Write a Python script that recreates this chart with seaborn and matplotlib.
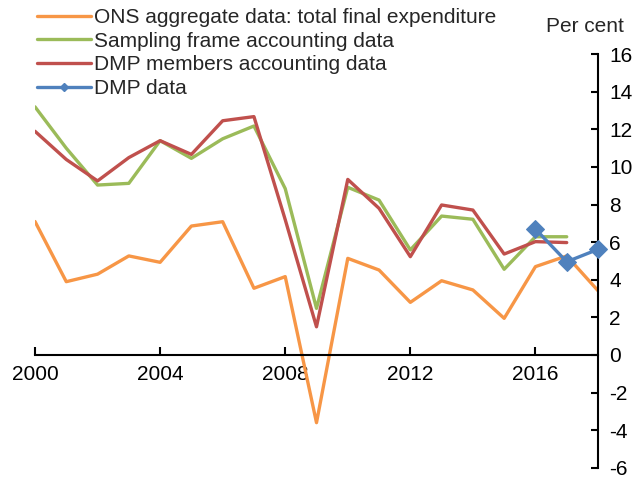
import matplotlib
matplotlib.use("Agg")
import matplotlib.pyplot as plt
import seaborn as sns
import pandas as pd
from matplotlib.lines import Line2D

years = list(range(2000, 2019))
ons = [7.1, 3.9, 4.3, 5.27, 4.93, 6.86, 7.09, 3.55, 4.17, -3.6, 5.14, 4.52, 2.8, 3.95, 3.46, 1.95, 4.7, 5.27, 3.42]
sampling = [13.2, 11.0, 9.04, 9.13, 11.4, 10.46, 11.5, 12.18, 8.85, 2.48, 8.92, 8.24, 5.59, 7.39, 7.22, 4.56, 6.29, 6.29]
members = [11.9, 10.4, 9.26, 10.5, 11.4, 10.67, 12.46, 12.68, 7.2, 1.5, 9.34, 7.8, 5.23, 7.98, 7.71, 5.37, 6.03, 5.98]
dmp_years = [2016, 2017, 2018]
dmp = [6.7, 4.96, 5.62]

labels = ["ONS aggregate data: total final expenditure",
          "Sampling frame accounting data",
          "DMP members accounting data",
          "DMP data"]
colors = ["#F79646", "#9BBB59", "#C0504D", "#4F81BD"]
yticks = list(range(-6, 17, 2))
xticks = [2000, 2004, 2008, 2012, 2016]

sns.set_theme(style="white")
plt.rcParams['font.family'] = ['Liberation Sans', 'DejaVu Sans']

fig = plt.figure(figsize=(6.39, 4.80), dpi=100)
ax = fig.add_axes([35/639, 1-467.8/480, (598-35)/639, (467.8-54.2)/480])

lw = 2.4
sns.lineplot(x=years, y=ons, ax=ax, color=colors[0], lw=lw, zorder=2)
sns.lineplot(x=years[:len(sampling)], y=sampling, ax=ax, color=colors[1], lw=lw, zorder=3)
sns.lineplot(x=years[:len(members)], y=members, ax=ax, color=colors[2], lw=lw, zorder=4)
sns.lineplot(x=dmp_years, y=dmp, ax=ax, color=colors[3], lw=lw, marker="D",
             markersize=9.5, markeredgecolor=colors[3], zorder=5, clip_on=False)

ax.set_xlim(2000, 2018)
ax.set_ylim(-6, 16)
ax.set_yticks(yticks)
ax.set_yticklabels([str(t) for t in yticks])
ax.set_xticks(xticks)
ax.set_xticklabels([str(t) for t in xticks])

ax.spines['left'].set_visible(False)
ax.spines['top'].set_visible(False)
ax.spines['bottom'].set_position(('data', 0))
for s in ['bottom', 'right']:
    ax.spines[s].set_color('black')
    ax.spines[s].set_linewidth(1.5)
ax.yaxis.tick_right()
ax.tick_params(axis='y', direction='in', length=5, width=1.5, color='black',
               labelsize=15, pad=8, labelcolor='black', right=True, left=False)
ax.tick_params(axis='x', direction='in', length=6, width=1.5, color='black',
               labelsize=15, pad=7, labelcolor='black', bottom=True)
ax.grid(False)
ax.set_xlabel("")
ax.set_ylabel("")

fig.text(0.916, 0.944, "Per cent", ha='center', va='center', fontsize=15)

handles = [Line2D([], [], color=colors[0], lw=lw),
           Line2D([], [], color=colors[1], lw=lw),
           Line2D([], [], color=colors[2], lw=lw),
           Line2D([], [], color=colors[3], lw=lw, marker="D", markersize=4)]
fig.legend(handles, labels, loc='upper left', bbox_to_anchor=(38/639 - 0.005, 0.988),
           frameon=False, fontsize=15, handlelength=2.6, handletextpad=0.15,
           labelspacing=0.23, borderpad=0.1, borderaxespad=0)

fig.savefig("out.png", dpi=100)
